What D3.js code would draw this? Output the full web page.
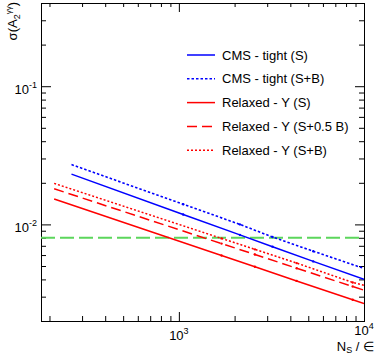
<!DOCTYPE html>
<html>
<head>
    <meta charset="utf-8">
    <title>sigma A2</title>
    <script src="https://cdn.jsdelivr.net/npm/d3@7"></script>
    <style>
        body { margin: 0; background: #fff; }
        text { font-family: "Liberation Sans", Arial, sans-serif; fill: #000; }
        .curve { fill: none; }
    </style>
</head>
<body>
<div id="chart"></div>
<script>
    // signal yield N_S / eff and expected uncertainty on A2
    const cmsX = [263, 1055, 2136, 3206, 5320, 10000];
    const cmsTightS = [0.0231, 0.0118, 0.0084, 0.0069, 0.0054, 0.0040];
    const cmsTightSB = [0.0271, 0.0140, 0.0100, 0.0081, 0.0064, 0.0048];

    const relaxedX = [212, 1700, 2575, 4327, 8690, 10000];
    const relaxedS = [0.01525, 0.00595, 0.00494, 0.0039, 0.00285, 0.00268];
    const relaxedS05B = [0.0181, 0.00726, 0.00606, 0.00482, 0.00355, 0.00334];
    const relaxedSB = [0.0198, 0.00792, 0.0066, 0.00525, 0.0038, 0.00363];

    const threshold = 0.008;

    const xDomain = [180, 10000];
    const yDomain = [0.002, 0.4];

    const legendLabels = ["CMS - tight (S)", "CMS - tight (S+B)", "Relaxed - \u03A5 (S)",
        "Relaxed - \u03A5 (S+0.5 B)", "Relaxed - \u03A5 (S+B)"];

    const series = [
        {xs: cmsX, ys: cmsTightS, color: "#0000ff", dash: null, w: 1.5},
        {xs: cmsX, ys: cmsTightSB, color: "#0000ff", dash: "2.5,2", w: 1.6},
        {xs: relaxedX, ys: relaxedS, color: "#ff0000", dash: null, w: 1.5},
        {xs: relaxedX, ys: relaxedS05B, color: "#ff0000", dash: "10,5", w: 1.5},
        {xs: relaxedX, ys: relaxedSB, color: "#ff0000", dash: "2,2", w: 1.5}
    ];

    const margin = {top: 3, right: 12, bottom: 34, left: 41};
    const W = 376, H = 355;
    const width = W - margin.left - margin.right;
    const height = H - margin.top - margin.bottom;

    const root = d3.select("#chart").append("svg")
        .attr("width", W).attr("height", H);
    const svg = root.append("g")
        .attr("transform", `translate(${margin.left},${margin.top})`);

    const x = d3.scaleLog().domain(xDomain).range([0, width]);
    const y = d3.scaleLog().domain(yDomain).range([height, 0]);

    const isDecade = d => Math.abs(Math.log10(d) - Math.round(Math.log10(d))) < 1e-9;
    const xMajor = x.ticks().filter(isDecade);
    const xMinor = x.ticks().filter(d => !isDecade(d));
    const yMajor = y.ticks().filter(isDecade);
    const yMinor = y.ticks().filter(d => !isDecade(d));

    function ticks(axis, scale, values, size, tr) {
        svg.append("g").attr("transform", tr)
            .call(axis(scale).tickValues(values).tickSize(-size).tickFormat(""))
            .call(g => g.select(".domain").remove())
            .call(g => g.selectAll("line").attr("stroke", "#000"));
    }
    ticks(d3.axisBottom, x, xMajor, 9, `translate(0,${height})`);
    ticks(d3.axisBottom, x, xMinor, 5, `translate(0,${height})`);
    ticks(d3.axisTop, x, xMajor, 9, "translate(0,0)");
    ticks(d3.axisTop, x, xMinor, 4, "translate(0,0)");
    ticks(d3.axisLeft, y, yMajor, 10, "translate(0,0)");
    ticks(d3.axisLeft, y, yMinor, 5, "translate(0,0)");
    ticks(d3.axisRight, y, yMajor, 9, `translate(${width},0)`);
    ticks(d3.axisRight, y, yMinor, 5, `translate(${width},0)`);

    svg.append("rect")
        .attr("x", 0.5).attr("y", 0.5)
        .attr("width", width).attr("height", height)
        .attr("fill", "none").attr("stroke", "#000");

    // tick labels 10^n (last one raised a bit, as ROOT does near the title)
    xMajor.forEach((d, i) => {
        const t = svg.append("text")
            .attr("x", x(d)).attr("y", height + (i === xMajor.length - 1 ? 14 : 18.5))
            .attr("text-anchor", "middle").attr("font-size", 13);
        t.append("tspan").text("10");
        t.append("tspan").attr("dy", -6).attr("font-size", 9).text(Math.round(Math.log10(d)));
    });
    yMajor.forEach(d => {
        const t = svg.append("text")
            .attr("x", -4).attr("y", y(d) + 7.5)
            .attr("text-anchor", "end").attr("font-size", 13);
        t.append("tspan").text("10");
        t.append("tspan").attr("dy", -6).attr("font-size", 9).text(Math.round(Math.log10(d)));
    });

    // axis titles
    const xt = root.append("text")
        .attr("x", 374).attr("y", 351)
        .attr("text-anchor", "end").attr("font-size", 13);
    xt.append("tspan").text("N");
    xt.append("tspan").attr("dy", 2).attr("font-size", 9).text("S");
    xt.append("tspan").attr("dy", -2).text(" / \u2208");

    const yt = root.append("text")
        .attr("transform", "translate(17,2) rotate(-90)")
        .attr("text-anchor", "end").attr("font-size", 13);
    yt.append("tspan").text("\u03C3(A");
    yt.append("tspan").attr("dy", 3).attr("font-size", 9).text("2");
    yt.append("tspan").attr("dy", -9).attr("font-size", 8).text("\u03B3\u03B3");
    yt.append("tspan").attr("dy", 6).text(")");

    svg.append("clipPath").attr("id", "clip")
        .append("rect").attr("width", width).attr("height", height);

    const plot = svg.append("g").attr("clip-path", "url(#clip)");

    plot.append("line")
        .attr("x1", 0).attr("x2", width)
        .attr("y1", y(threshold)).attr("y2", y(threshold))
        .attr("stroke", "#5cd65c").attr("stroke-width", 2)
        .attr("stroke-dasharray", "14,5");

    const line = d3.line().x(d => x(d[0])).y(d => y(d[1]));

    series.forEach(s => {
        const pts = d3.zip(s.xs, s.ys);
        plot.append("path")
            .attr("class", "curve")
            .attr("d", line(pts))
            .attr("stroke", s.color)
            .attr("stroke-width", s.w)
            .attr("stroke-dasharray", s.dash);
        plot.selectAll(null).data(pts.slice(1, -1)).join("circle")
            .attr("cx", d => x(d[0])).attr("cy", d => y(d[1]))
            .attr("r", 1.2).attr("fill", s.color);
    });

    // legend
    const leg = root.append("g").attr("transform", "translate(187,55)");
    series.forEach((s, i) => {
        const ly = i * 23.8;
        leg.append("line")
            .attr("x1", 0).attr("x2", 28).attr("y1", ly).attr("y2", ly)
            .attr("stroke", s.color).attr("stroke-width", s.w)
            .attr("stroke-dasharray", s.dash);
        leg.append("text")
            .attr("x", 35).attr("y", ly + 4.5)
            .attr("font-size", 13)
            .text(legendLabels[i]);
    });
</script>
</body>
</html>
